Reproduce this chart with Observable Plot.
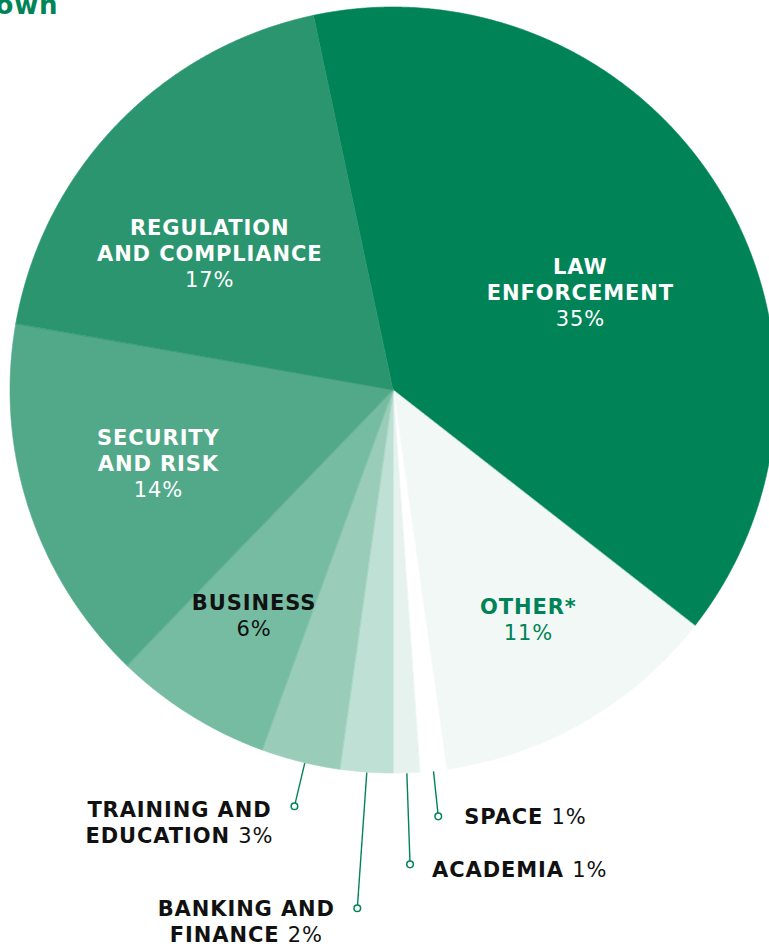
<!DOCTYPE html>
<html><head><meta charset="utf-8">
<script src="https://cdn.jsdelivr.net/npm/d3@7"></script>
<script src="https://cdn.jsdelivr.net/npm/@observablehq/plot@0.6"></script>
<style>
html,body{margin:0;padding:0;background:#fff;overflow:hidden}
#chart{position:relative;width:769px;height:946px;overflow:hidden}
</style></head><body><div id="chart"></div>
<script>
// ---- data ----
const categories = ["Law enforcement", "Other*", "Space", "Academia", "Banking and finance", "Training and education", "Business", "Security and risk", "Regulation and compliance"];
const shares = [35, 11, 1, 1, 2, 3, 6, 14, 17];
const labelNames = ["LAW\nENFORCEMENT", "OTHER*", "SPACE", "ACADEMIA", "BANKING AND\nFINANCE", "TRAINING AND\nEDUCATION", "BUSINESS", "SECURITY\nAND RISK", "REGULATION\nAND COMPLIANCE"];
const titleText = "Breakdown";

// ---- style / layout config ----
const palette = ["#008457", "#f2f8f5", "#ffffff", "#e5f2ed", "#bfe1d5", "#99cdb9", "#75bca2", "#52a98a", "#2b9570"];
const W = 769, H = 946, CX = 393, CY = 390, R = 383;
const START_DEG = -12;
const GREEN = "#008457";
// label placement (polar, in radius units) per category
const layout = {
  "Law enforcement": {a: 62.1, r: 0.552, tone: "white"},
  "Regulation and compliance": {a: 306.9, r: 0.600, tone: "white"},
  "Security and risk": {a: 253.0, r: 0.642, tone: "white"},
  "Business": {a: 211.9, r: 0.689, tone: "dark"},
  "Other*": {a: 149.4, r: 0.692, tone: "green"},
  "Space": {r: 1.118, dx: 26, dy: -1, anchor: "start", outside: true},
  "Academia": {r: 1.238, dx: 22, dy: 4, anchor: "start", outside: true},
  "Banking and finance": {r: 1.355, dx: -111, dy: 12, anchor: "middle", outside: true},
  "Training and education": {r: 1.116, dx: -115, dy: 15, anchor: "middle", outside: true, a: 193.4}
};

const rad = d => d * Math.PI / 180;
const pie = d3.pie().value((d, i) => shares[i]).sort(null)
  .startAngle(rad(START_DEG)).endAngle(rad(START_DEG + 360));
const arcs = pie(categories);

// wedge polygons (arc points + center baseline)
const wedgePts = [];
arcs.forEach((a, k) => {
  const n = Math.max(2, Math.ceil((a.endAngle - a.startAngle) / (Math.PI / 720)));
  for (let j = 0; j <= n; j++) {
    const t = a.startAngle + (a.endAngle - a.startAngle) * j / n;
    wedgePts.push({cat: categories[k], x1: Math.sin(t), y1: Math.cos(t), x2: 0, y2: 0});
  }
});

const inside = [], outside = [], leaders = [];
arcs.forEach((a, k) => {
  const cat = categories[k];
  const L = layout[cat];
  const mid = (a.startAngle + a.endAngle) / 2;
  const ang = L.a != null ? rad(L.a) : mid;
  const text = labelNames[k] + (L.outside ? " " : "\n") + shares[k] + "%";
  const px = L.r * Math.sin(ang), py = L.r * Math.cos(ang);
  if (L.outside) {
    leaders.push({x1: Math.sin(ang), y1: Math.cos(ang), x2: px, y2: py});
    outside.push({text, anchor: L.anchor, x: px + L.dx / R, y: py - L.dy / R});
  } else {
    inside.push({text, tone: L.tone, x: px, y: py});
  }
});

const font = {fontFamily: "DejaVu Sans", fontWeight: "bold", fontSize: 21, lineHeight: 1.24, lineAnchor: "middle", className: "lbl"};

const chart = Plot.plot({
  width: W, height: H,
  margin: 0,
  style: {fontFamily: "DejaVu Sans", letterSpacing: "0.9px", background: "#fff", overflow: "visible"},
  x: {domain: [-CX / R, (W - CX) / R], range: [0, W], axis: null},
  y: {domain: [-(H - CY) / R, CY / R], range: [H, 0], axis: null},
  color: {domain: categories, range: palette},
  marks: [
    Plot.area(wedgePts, {x1: "x1", y1: "y1", x2: "x2", y2: "y2", z: "cat", fill: "cat", stroke: "cat", strokeWidth: 0.6, curve: "linear"}),
    Plot.link(leaders, {x1: "x1", y1: "y1", x2: "x2", y2: "y2", stroke: GREEN, strokeWidth: 1.4}),
    Plot.dot(leaders, {x: "x2", y: "y2", r: 3.3, stroke: GREEN, strokeWidth: 1.5, fill: "#fff"}),
    Plot.text(inside.filter(d => d.tone === "white"), {x: "x", y: "y", text: "text", fill: "#fff", ...font}),
    Plot.text(inside.filter(d => d.tone === "dark"), {x: "x", y: "y", text: "text", fill: "#111", ...font}),
    Plot.text(inside.filter(d => d.tone === "green"), {x: "x", y: "y", text: "text", fill: GREEN, ...font}),
    Plot.text(outside.filter(d => d.anchor === "start"), {x: "x", y: "y", text: "text", fill: "#111", textAnchor: "start", ...font}),
    Plot.text(outside.filter(d => d.anchor === "middle"), {x: "x", y: "y", text: "text", fill: "#111", textAnchor: "middle", ...font}),
    Plot.text([titleText], {frameAnchor: "top-left", text: d => d, textAnchor: "end", lineAnchor: "bottom", dx: 58, dy: 13, fill: GREEN, fontFamily: "DejaVu Sans", fontWeight: "bold", fontSize: 26})
  ]
});

// percentages in a lighter weight
function splitPct(el) {
  const s = el.textContent;
  const m = s.match(/^(.*?)(\d+%)$/);
  if (!m) return;
  el.textContent = m[1];
  const t = document.createElementNS("http://www.w3.org/2000/svg", "tspan");
  t.setAttribute("font-weight", "normal");
  t.textContent = m[2];
  el.appendChild(t);
}
chart.querySelectorAll("g.lbl text").forEach(te => {
  const spans = te.querySelectorAll(":scope > tspan");
  if (spans.length) spans.forEach(splitPct); else splitPct(te);
});

document.getElementById("chart").appendChild(chart);
</script>
</body></html>
